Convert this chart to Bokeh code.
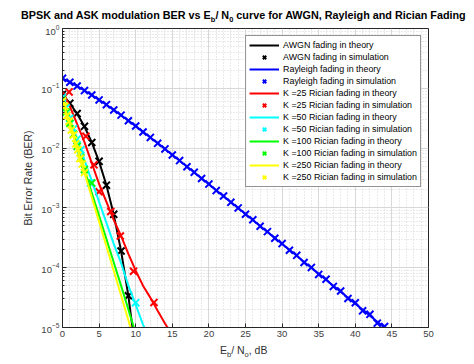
from bokeh.plotting import figure
from bokeh.models import (Range1d, Legend, LegendItem, FixedTicker,
                          LogTickFormatter, Div)
from bokeh.layouts import column
from bokeh.embed import file_html
from bokeh.resources import INLINE

# ---------------- data ----------------
snr_awgn_theory = [0, 1, 2, 3, 4, 5, 6, 7, 8, 9, 10]
ber_awgn_theory = [0.0786, 0.0563, 0.0375, 0.0229, 0.0125, 0.00595, 0.00239,
                   0.000773, 0.000191, 0.0000336, 0.00000387]
snr_awgn_sim = [0, 1, 2, 3, 4, 5, 6, 7, 8, 9]
ber_awgn_sim = [0.0790, 0.0560, 0.0378, 0.0231, 0.0124, 0.0060, 0.0024,
                0.00078, 0.00019, 0.000034]

snr_ray = list(range(0, 45))
ber_ray_theory = [0.1464, 0.1267, 0.1085, 0.0919, 0.0771, 0.0642, 0.0530, 0.0435,
                  0.0355, 0.0288, 0.0233, 0.0187, 0.0150, 0.0121, 0.00966, 0.00772,
                  0.00616, 0.00491, 0.00392, 0.00312, 0.00248, 0.00197, 0.00157,
                  0.00125, 0.000993, 0.000789, 0.000628, 0.000499, 0.000396,
                  0.000315, 0.000250, 0.000199, 0.000158, 0.000125, 0.0000995,
                  0.0000791, 0.0000628, 0.0000499, 0.0000396, 0.0000315, 0.0000250,
                  0.0000199, 0.0000158, 0.0000125, 0.00000995]
ber_ray_sim = [0.1468, 0.1263, 0.1088, 0.0916, 0.0773, 0.0640, 0.0532, 0.0433,
               0.0356, 0.0287, 0.0234, 0.0186, 0.0151, 0.0120, 0.00970, 0.00768,
               0.00619, 0.00488, 0.00395, 0.00310, 0.00250, 0.00195, 0.00158,
               0.00124, 0.00100, 0.000782, 0.000633, 0.000494, 0.000401,
               0.000311, 0.000253, 0.000196, 0.000161, 0.000122, 0.000101,
               0.0000772, 0.0000641, 0.0000486, 0.0000408, 0.0000306, 0.0000259,
               0.0000190, 0.0000166, 0.0000118, 0.0000104]

snr_k25_theory = [0, 1, 2, 3, 4, 5, 6, 7, 8, 9, 10, 11, 12, 13, 14, 15]
ber_k25_theory = [0.0891, 0.0501, 0.0251, 0.0126, 0.00562, 0.00251, 0.00126,
                  0.000631, 0.000339, 0.000170, 0.0000891, 0.0000501, 0.0000316,
                  0.0000191, 0.0000117, 0.0000074]
snr_k25_sim = [0.9, 3.2, 4.3, 5.0, 6.6, 7.9, 9.7, 12.5]
ber_k25_sim = [0.0871, 0.0158, 0.00525, 0.00186, 0.00087, 0.000339, 0.0000871,
               0.0000263]

snr_k50_theory = [0, 1, 2, 3, 4, 5, 6, 7, 8, 9, 10, 11, 12]
ber_k50_theory = [0.0708, 0.0316, 0.0141, 0.00631, 0.00282, 0.00126, 0.000562,
                  0.000251, 0.000120, 0.0000501, 0.0000240, 0.0000112, 0.0000054]
snr_k50_sim = [0.0, 0.5, 1.0, 1.5, 2.0, 2.5, 3.8, 10.0]
ber_k50_sim = [0.0708, 0.0473, 0.0316, 0.0211, 0.0141, 0.0094, 0.0026, 0.000026]

snr_k100_theory = [0, 1, 2, 3, 4, 5, 6, 7, 8, 9, 10]
ber_k100_theory = [0.0631, 0.0263, 0.0107, 0.00437, 0.00178, 0.000741, 0.000302,
                   0.000123, 0.0000501, 0.0000200, 0.0000079]
snr_k100_sim = [0.0, 0.5, 1.0, 1.5, 2.0, 2.5, 3.0, 4.0]
ber_k100_sim = [0.063, 0.040, 0.026, 0.017, 0.0107, 0.0069, 0.0044, 0.0026]

snr_k250_theory = [0, 1, 2, 3, 4, 5, 6, 7, 8, 9, 10]
ber_k250_theory = [0.0631, 0.0251, 0.0100, 0.00389, 0.00151, 0.000589, 0.000229,
                   0.0000891, 0.0000347, 0.0000132, 0.0000050]
snr_k250_sim = [0.0, 0.3, 0.6, 0.9, 1.2, 1.5, 1.8, 2.1, 2.4, 2.7, 3.0]
ber_k250_sim = [0.061, 0.050, 0.035, 0.028, 0.020, 0.0165, 0.0118, 0.0094,
                0.0067, 0.0054, 0.0039]

x_ticks = [0, 5, 10, 15, 20, 25, 30, 35, 40, 45, 50]
y_ticks = [1e-5, 1e-4, 1e-3, 1e-2, 1e-1, 1e0]

legend_labels = ["AWGN fading in theory", "AWGN fading in simulation",
                 "Rayleigh fading in theory", "Rayleigh fading in simulation",
                 "K =25 Rician fading in theory", "K =25 Rician fading in simulation",
                 "K =50 Rician fading in theory", "K =50 Rician fading in simulation",
                 "K =100 Rician fading in theory", "K =100 Rician fading in simulation",
                 "K =250 Rician fading in theory", "K =250 Rician fading in simulation"]

# ---------------- figure ----------------
FONT = "Liberation Sans"
p = figure(width=474, height=318, x_range=Range1d(0, 50), y_range=Range1d(1e-5, 1),
           y_axis_type="log", output_backend="svg", toolbar_location=None,
           min_border_left=62, min_border_right=46, min_border_top=4,
           min_border_bottom=15, margin=0)
p.background_fill_color = "white"
p.border_fill_color = "white"
p.outline_line_color = "#262626"
p.outline_line_width = 1

p.xaxis.ticker = FixedTicker(ticks=x_ticks, minor_ticks=list(range(0, 51)))
minor_y = [m * 10.0 ** e for e in range(-5, 0) for m in range(2, 10)]
p.yaxis.ticker = FixedTicker(ticks=y_ticks, minor_ticks=minor_y)
p.yaxis.formatter = LogTickFormatter()

for ax in (p.xaxis, p.yaxis):
    ax.axis_line_color = "#262626"
    ax.major_tick_line_color = "#262626"
    ax.minor_tick_line_color = "#262626"
    ax.major_tick_in = 4
    ax.major_tick_out = 0
    ax.minor_tick_in = 2
    ax.minor_tick_out = 0
    ax.major_label_text_font = FONT
    ax.major_label_text_font_size = "9.5px"
    ax.major_label_text_color = "#404040"
    ax.major_label_standoff = 3
p.xaxis.minor_tick_line_color = None

p.yaxis.axis_label = "Bit Error Rate (BER)"
p.yaxis.axis_label_text_font = FONT
p.yaxis.axis_label_text_font_style = "normal"
p.yaxis.axis_label_text_font_size = "10.5px"
p.yaxis.axis_label_text_color = "#303030"
p.yaxis.axis_label_standoff = 4

for g in (p.xgrid, p.ygrid):
    g.grid_line_color = "#d8d8d8"
    g.grid_line_width = 1
    g.minor_grid_line_color = "#d4d4d4"
    g.minor_grid_line_dash = "1 2"
    g.minor_grid_line_width = 1

LW = 2
MS = 10
series = [
    (snr_awgn_theory, ber_awgn_theory, snr_awgn_sim, ber_awgn_sim, "#000000"),
    (snr_ray, ber_ray_theory, snr_ray, ber_ray_sim, "#0000ff"),
    (snr_k25_theory, ber_k25_theory, snr_k25_sim, ber_k25_sim, "#ff0000"),
    (snr_k50_theory, ber_k50_theory, snr_k50_sim, ber_k50_sim, "#00ffff"),
    (snr_k100_theory, ber_k100_theory, snr_k100_sim, ber_k100_sim, "#00ff00"),
    (snr_k250_theory, ber_k250_theory, snr_k250_sim, ber_k250_sim, "#ffff00"),
]
items = []
for i, (xt, yt, xs, ys, col) in enumerate(series):
    r_line = p.line(xt, yt, line_color=col, line_width=LW)
    r_mark = p.scatter(xs, ys, marker="x", size=MS, line_color=col, line_width=LW)
    items.append(LegendItem(label=legend_labels[2 * i], renderers=[r_line]))
    items.append(LegendItem(label=legend_labels[2 * i + 1], renderers=[r_mark]))

legend = Legend(items=items, location="top_right", margin=7, padding=3,
                spacing=0, glyph_height=12, glyph_width=30, label_height=12,
                label_standoff=4, label_text_font=FONT,
                label_text_font_size="8.9px", label_text_color="#000000",
                border_line_color="#262626", border_line_width=1,
                background_fill_color="white", background_fill_alpha=1)
p.add_layout(legend, "center")

# ---------------- title / x-label (HTML text with sub-scripts) ----------------
SUB = "font-size:7.5px;vertical-align:-3px;"
title_html = (
    "<div style=\"font-family:'Liberation Sans',Arial,sans-serif;font-weight:bold;"
    "font-size:10.8px;line-height:12px;white-space:nowrap;color:#000;"
    "padding-left:21px;padding-top:9px;\">"
    "BPSK and ASK modulation BER vs E<span style='" + SUB + "'>b</span>"
    "/ N<span style='" + SUB + "'>0</span>"
    " curve for AWGN, Rayleigh and Rician Fading</div>")
title_div = Div(text=title_html, width=474, height=24, margin=0)

xlabel_html = (
    "<div style=\"font-family:'Liberation Sans',Arial,sans-serif;"
    "font-size:10.5px;line-height:12px;white-space:nowrap;color:#303030;"
    "padding-left:220px;padding-top:0px;\">"
    "E<span style='" + SUB + "'>b</span>/ N<span style='" + SUB + "'>o</span>, dB"
    "</div>")
xlabel_div = Div(text=xlabel_html, width=474, height=22, margin=0)

layout = column(title_div, p, xlabel_div, spacing=0, margin=0)

open("out.html", "w").write(file_html(layout, INLINE))
